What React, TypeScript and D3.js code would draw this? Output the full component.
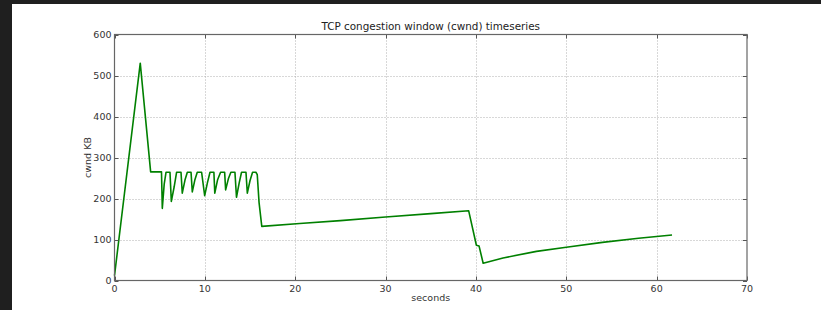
import { useEffect, useRef } from 'react';
import * as d3 from 'd3';

// cwnd timeseries (seconds, KB)
const TIME = [
  0, 2.85, 4.0, 5.2,
  5.29, 5.5, 5.7, 6.14,
  6.29, 6.6, 6.87, 7.36,
  7.5, 7.8, 8.06, 8.47,
  8.61, 8.9, 9.16, 9.64,
  9.98, 10.3, 10.57, 11.0,
  11.1, 11.4, 11.74, 12.19,
  12.3, 12.6, 12.88, 13.33,
  13.5, 13.8, 14.06, 14.55,
  14.7, 15.0, 15.28, 15.65, 15.8, 16.0, 16.3,
  20.5, 25, 30, 35, 39.2,
  40.05, 40.35, 40.8, 43, 46.7, 50, 54, 58, 61.7,
];
const CWND = [
  12, 530, 265, 265,
  176, 235, 264, 264,
  193, 228, 264, 264,
  213, 245, 264, 264,
  216, 246, 264, 264,
  207, 240, 264, 264,
  213, 245, 264, 264,
  221, 248, 264, 264,
  203, 238, 264, 264,
  213, 244, 264, 264, 258, 190, 132,
  139, 146, 155, 163, 170,
  86, 84, 42, 55, 71, 81, 93, 103, 111,
];
const X_TICKS = [0, 10, 20, 30, 40, 50, 60, 70];
const Y_TICKS = [0, 100, 200, 300, 400, 500, 600];

const W = 821;
const H = 310;
const FONT = 'DejaVu Sans, sans-serif';

export default function App() {
  const ref = useRef<SVGSVGElement>(null);

  useEffect(() => {
    if (!ref.current) return;
    const svg = d3.select(ref.current);
    svg.selectAll('*').remove();

    const left = 114.5, right = 747, top = 34.5, bottom = 280.5;
    const x = d3.scaleLinear().domain([0, 70]).range([left, right]);
    const y = d3.scaleLinear().domain([0, 600]).range([bottom, top]);

    // frame of the screenshot
    svg.append('rect').attr('width', W).attr('height', H).attr('fill', '#ffffff');
    svg.append('rect').attr('width', W).attr('height', 4).attr('fill', '#1f1f1f');
    svg.append('rect').attr('width', 12).attr('height', H).attr('fill', '#1f1f1f');

    // grid
    const grid = svg.append('g')
      .attr('stroke', '#b0b0b0')
      .attr('stroke-width', 1)
      .attr('stroke-dasharray', '1,2');
    X_TICKS.slice(1, -1).forEach(t => {
      grid.append('line')
        .attr('x1', Math.round(x(t)) + 0.5).attr('x2', Math.round(x(t)) + 0.5)
        .attr('y1', top).attr('y2', bottom);
    });
    Y_TICKS.slice(1, -1).forEach(t => {
      grid.append('line')
        .attr('y1', Math.round(y(t)) + 0.5).attr('y2', Math.round(y(t)) + 0.5)
        .attr('x1', left).attr('x2', right);
    });

    // data line
    const line = d3.line<number>()
      .x((_, i) => x(TIME[i]))
      .y(d => y(d));
    svg.append('path')
      .datum(CWND)
      .attr('fill', 'none')
      .attr('stroke', '#008000')
      .attr('stroke-width', 1.6)
      .attr('stroke-linejoin', 'round')
      .attr('d', line);

    // inward ticks on all four sides
    const ticks = svg.append('g').attr('stroke', '#555').attr('stroke-width', 1);
    X_TICKS.forEach(t => {
      const px = Math.round(x(t)) + 0.5;
      ticks.append('line').attr('x1', px).attr('x2', px).attr('y1', bottom).attr('y2', bottom - 4);
      ticks.append('line').attr('x1', px).attr('x2', px).attr('y1', top).attr('y2', top + 4);
    });
    Y_TICKS.forEach(t => {
      const py = Math.round(y(t)) + 0.5;
      ticks.append('line').attr('y1', py).attr('y2', py).attr('x1', left).attr('x2', left + 4);
      ticks.append('line').attr('y1', py).attr('y2', py).attr('x1', right).attr('x2', right - 4);
    });

    // axes frame
    svg.append('rect')
      .attr('x', left).attr('y', top)
      .attr('width', right - left).attr('height', bottom - top)
      .attr('fill', 'none')
      .attr('stroke', '#666')
      .attr('stroke-width', 1.2);

    const labels = svg.append('g')
      .attr('font-family', FONT)
      .attr('font-size', 9.5)
      .attr('fill', '#333');

    X_TICKS.forEach(t => {
      labels.append('text')
        .attr('x', x(t)).attr('y', bottom + 11)
        .attr('text-anchor', 'middle')
        .text(t);
    });
    Y_TICKS.forEach(t => {
      labels.append('text')
        .attr('x', left - 3).attr('y', y(t) + 3)
        .attr('text-anchor', 'end')
        .text(t);
    });

    labels.append('text')
      .attr('x', (left + right) / 2).attr('y', 301)
      .attr('text-anchor', 'middle')
      .text('seconds');
    labels.append('text')
      .attr('transform', `translate(91,${(top + bottom) / 2}) rotate(-90)`)
      .attr('text-anchor', 'middle')
      .text('cwnd KB');

    svg.append('text')
      .attr('x', (left + right) / 2).attr('y', 30)
      .attr('text-anchor', 'middle')
      .attr('font-family', FONT)
      .attr('font-size', 10.4)
      .attr('fill', '#222')
      .text('TCP congestion window (cwnd) timeseries');
  }, []);

  return (
    <svg
      ref={ref}
      width={W}
      height={H}
      style={{ position: 'fixed', left: 0, top: 0, display: 'block' }}
    />
  );
}
